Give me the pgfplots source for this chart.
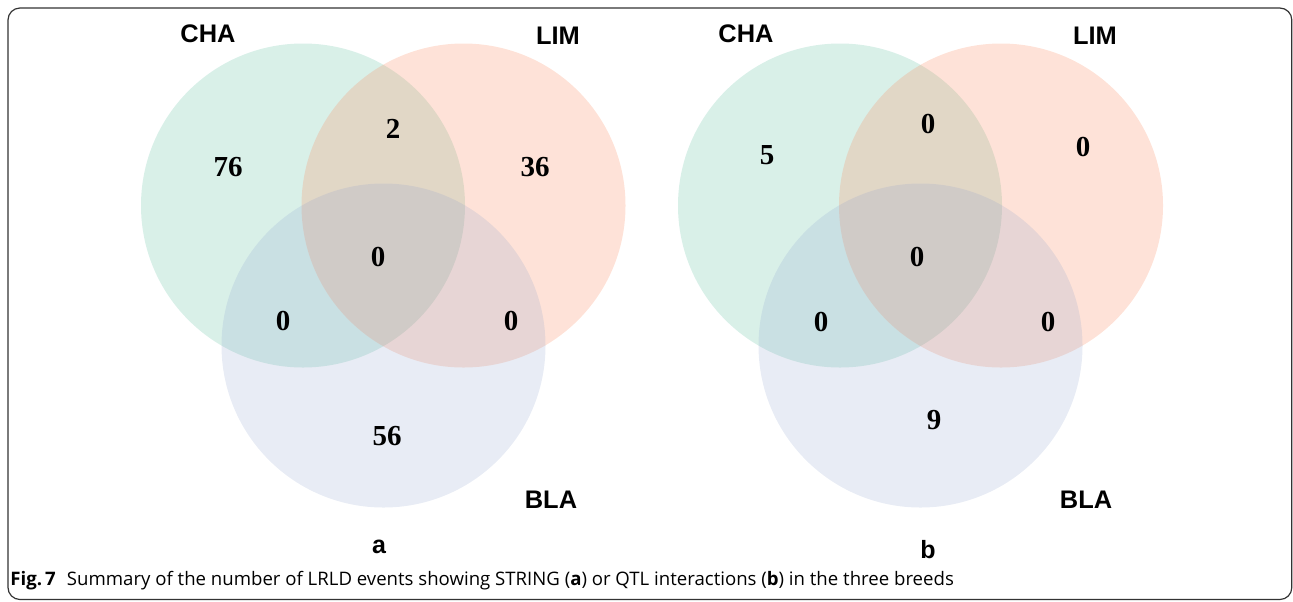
\documentclass[border=0pt]{standalone}
\usepackage{pgfplots}
\pgfplotsset{compat=1.18}
\usepackage{fontspec}
\setmainfont{Open Sans}
\newfontfamily\arialf{Liberation Sans}
\newfontfamily\timesf{Liberation Serif}
\definecolor{chag}{HTML}{66C2A5}
\definecolor{limo}{HTML}{FC8D62}
\definecolor{blab}{HTML}{8DA0CB}
\definecolor{framec}{HTML}{333333}
\begin{document}
\begin{tikzpicture}
\begin{axis}[
  scale only axis, width=646.5pt, height=300.5pt,
  xmin=0, xmax=1293, ymin=0, ymax=601, y dir=reverse,
  hide axis, clip=false]
% Venn circles (centres in picture units; radius 162 units = 81pt)
\addplot[only marks, mark=*, mark size=81pt, draw=none, fill=chag, fill opacity=0.25,
  mark options={draw=none, draw opacity=0, fill=chag, fill opacity=0.25}]
  coordinates {(303,205.5) (840,205.5)};
\addplot[only marks, mark=*, mark size=81pt, draw=none, fill=limo, fill opacity=0.25,
  mark options={draw=none, draw opacity=0, fill=limo, fill opacity=0.25}]
  coordinates {(463.5,205.5) (1001,205.5)};
\addplot[only marks, mark=*, mark size=81pt, draw=none, fill=blab, fill opacity=0.2,
  mark options={draw=none, draw opacity=0, fill=blab, fill opacity=0.2}]
  coordinates {(383.5,345.5) (920.5,345.5)};
% counts
\addplot[draw=none, mark=none, nodes near coords, point meta=explicit symbolic,
  nodes near coords style={font=\timesf\bfseries\fontsize{14.5pt}{16pt}\selectfont, anchor=center, inner sep=0pt, text opacity=1}]
  table[meta=label] {
x y label
228 167 76
393 129 2
535 167 36
378 257 0
283 321 0
511 321 0
387 436 56
767 155 5
928 124 0
1083 147 0
917 257 0
821 322 0
1048 322 0
934 420 9
};
% set names
\node[font=\arialf\bfseries\fontsize{12.7pt}{14pt}\selectfont] at (axis cs:208,34) {CHA};
\node[font=\arialf\bfseries\fontsize{12.7pt}{14pt}\selectfont] at (axis cs:558,36) {LIM};
\node[font=\arialf\bfseries\fontsize{12.7pt}{14pt}\selectfont] at (axis cs:551,500) {BLA};
\node[font=\arialf\bfseries\fontsize{12.7pt}{14pt}\selectfont] at (axis cs:746,34) {CHA};
\node[font=\arialf\bfseries\fontsize{12.7pt}{14pt}\selectfont] at (axis cs:1095,36) {LIM};
\node[font=\arialf\bfseries\fontsize{12.7pt}{14pt}\selectfont] at (axis cs:1086,500) {BLA};
\node[font=\arialf\bfseries\fontsize{12.5pt}{14pt}\selectfont] at (axis cs:379,547) {a};
\node[font=\arialf\bfseries\fontsize{12.5pt}{14pt}\selectfont] at (axis cs:928,550) {b};
% caption
\node[anchor=base west, inner sep=0pt, font=\fontsize{9.3pt}{11pt}\selectfont] at (axis cs:10,585)
  {\textbf{Fig.\,7}\hspace{0.6em}Summary of the number of LRLD events showing STRING (\textbf{a}) or QTL interactions (\textbf{b}) in the three breeds};
% frame
\draw[framec, line width=0.6pt, rounded corners=6pt] (axis cs:8,599.5) rectangle (axis cs:1291.8,8);
\end{axis}
\pgfresetboundingbox
\useasboundingbox (current axis.south west) rectangle (current axis.north east);
\end{tikzpicture}
\end{document}
